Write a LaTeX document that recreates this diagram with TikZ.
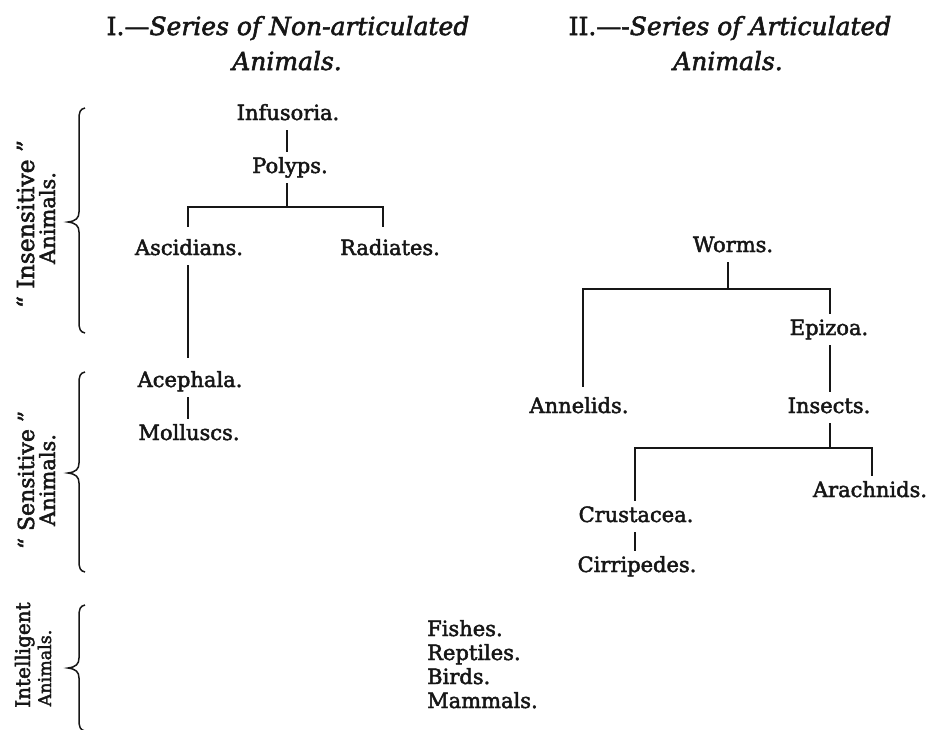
\documentclass[tikz,border=0pt]{standalone}
\usepackage{fontspec}
\setmainfont{DejaVu Serif}[FakeBold=2.2]
\definecolor{ink}{RGB}{22,22,22}
% curly brace opening to the right: top y, cusp y, bottom y
\newcommand\groupbrace[3]{%
  \draw[bracestroke] (85,#1) .. controls (80,#1+1) and (79,#1+4) .. (79,#1+12)
    -- (79,#2-10) .. controls (79,#2-4) and (76,#2-1) .. (68,#2)
    .. controls (76,#2+1) and (79,#2+4) .. (79,#2+10)
    -- (79,#3-12) .. controls (79,#3-4) and (80,#3-1) .. (85,#3);}
\begin{document}
\begin{tikzpicture}[x=1pt,y=-1pt,
  taxon/.style={font=\fontsize{21}{25}\selectfont, text=ink, text height=16pt,
    text depth=5pt, inner xsep=2pt, inner ysep=5pt, anchor=base},
  head/.style={font=\fontsize{25}{30}\selectfont\itshape, text=ink, anchor=base},
  side/.style={text=ink, rotate=90, anchor=base},
  link/.style={draw=ink, line width=1.6pt},
  bracestroke/.style={draw=ink, line width=1.5pt}]
\useasboundingbox[fill=white] (0,0) rectangle (929,729);

% headings
\node[head] (h1a) at (288,35) {{\upshape I.—}Series of Non-articulated};
\node[head] (h1b) at (287,70) {Animals.};
\node[head] (h2a) at (730,35) {{\upshape II.—-}Series of Articulated};
\node[head] (h2b) at (728,70) {Animals.};

% side groups
\node[side, font=\fontsize{23.5}{28}\selectfont] (s1a) at (34,224) {“ Insensitive ”};
\node[side, font=\fontsize{21}{25}\selectfont] (s1b) at (55,218) {Animals.};
\node[side, font=\fontsize{22}{26}\selectfont] (s2a) at (34,480) {“ Sensitive ”};
\node[side, font=\fontsize{21}{25}\selectfont] (s2b) at (55,480) {Animals.};
\node[side, font=\fontsize{20}{24}\selectfont] (s3a) at (30,655) {Intelligent};
\node[side, font=\fontsize{17.5}{21}\selectfont] (s3b) at (51,668) {Animals.};
\groupbrace{108}{222}{333}
\groupbrace{372}{473}{572}
\groupbrace{605}{668}{731}

% non-articulated series
\node[taxon] (inf)   at (288,120) {Infusoria.};
\node[taxon] (pol)   at (290,173) {Polyps.};
\node[taxon] (asc)   at (189,255) {Ascidians.};
\node[taxon] (rad)   at (390,255) {Radiates.};
\node[taxon] (aceph) at (190,387) {Acephala.};
\node[taxon] (moll)  at (189,440) {Molluscs.};

\coordinate (b1)  at (287,207);
\coordinate (b1l) at (188,207);
\coordinate (b1r) at (383,207);
\draw[link] (inf.south -| b1) -- (pol.north -| b1);
\draw[link] (pol.south -| b1) -- (b1);
\draw[link] ([yshift=7pt]asc.north -| b1l) -- (b1l) -- (b1r) -- ([yshift=7pt]rad.north -| b1r);
\draw[link] (asc.south -| b1l) -- ([yshift=8pt]aceph.north -| b1l);
\draw[link] (aceph.south -| b1l) -- (moll.north -| b1l);

% articulated series
\node[taxon] (worms) at (733,252) {Worms.};
\node[taxon] (epi)   at (829,335) {Epizoa.};
\node[taxon] (ann)   at (579,413) {Annelids.};
\node[taxon] (ins)   at (829,413) {Insects.};
\node[taxon] (arach) at (870,497) {Arachnids.};
\node[taxon] (crus)  at (636,522) {Crustacea.};
\node[taxon] (cirr)  at (637,572) {Cirripedes.};

\coordinate (b2)  at (728,289);
\coordinate (b2l) at (583,289);
\coordinate (b2r) at (830,289);
\draw[link] (worms.south -| b2) -- (b2);
\draw[link] ([yshift=5pt]ann.north -| b2l) -- (b2l) -- (b2r) -- (epi.north -| b2r);
\draw[link] (epi.south -| b2r) -- (ins.north -| b2r);

\coordinate (b3)  at (830,448);
\coordinate (b3l) at (635,448);
\coordinate (b3r) at (872,448);
\draw[link] (ins.south -| b3) -- (b3);
\draw[link] (crus.north -| b3l) -- (b3l) -- (b3r) -- (arach.north -| b3r);
\draw[link] (crus.south -| b3l) -- (cirr.north -| b3l);

% vertebrates
\node[taxon, anchor=base west] (fish) at (425,636) {Fishes.};
\node[taxon, anchor=base west] (rept) at (425,660) {Reptiles.};
\node[taxon, anchor=base west] (bird) at (425,684) {Birds.};
\node[taxon, anchor=base west] (mamm) at (425,708) {Mammals.};
\end{tikzpicture}
\end{document}
